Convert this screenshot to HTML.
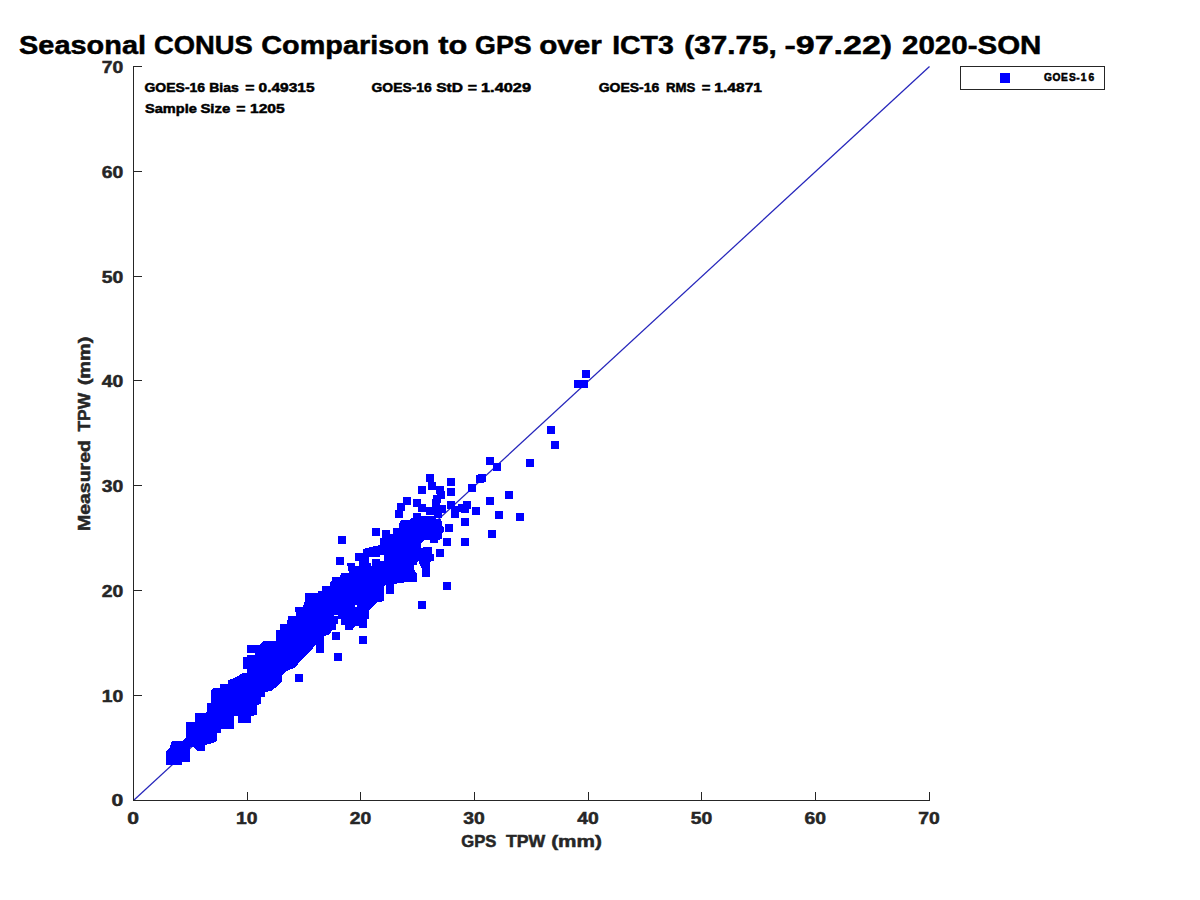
<!DOCTYPE html>
<html><head><meta charset="utf-8"><style>
html,body{margin:0;padding:0;background:#fff;width:1200px;height:900px;overflow:hidden}
svg{display:block}
text{font-family:"Liberation Sans",sans-serif;font-weight:bold;stroke:currentColor;stroke-width:0.5px}
</style></head><body>
<svg width="1200" height="900" viewBox="0 0 1200 900">
<rect width="1200" height="900" fill="#fff"/>
<!-- title -->
<g font-size="26.5" fill="#000" color="#000">
<text x="19.1" y="54.2" textLength="126.94" lengthAdjust="spacingAndGlyphs">Seasonal</text>
<text x="154.01" y="54.2" textLength="98.78" lengthAdjust="spacingAndGlyphs">CONUS</text>
<text x="261.3" y="54.2" textLength="168.08" lengthAdjust="spacingAndGlyphs">Comparison</text>
<text x="438.2" y="54.2" textLength="28.97" lengthAdjust="spacingAndGlyphs">to</text>
<text x="475.14" y="54.2" textLength="56.49" lengthAdjust="spacingAndGlyphs">GPS</text>
<text x="539.17" y="54.2" textLength="62.76" lengthAdjust="spacingAndGlyphs">over</text>
<text x="612.15" y="54.2" textLength="61.58" lengthAdjust="spacingAndGlyphs">ICT3</text>
<text x="684.35" y="54.2" textLength="92.5" lengthAdjust="spacingAndGlyphs">(37.75,</text>
<text x="784.42" y="54.2" textLength="107.73" lengthAdjust="spacingAndGlyphs">-97.22)</text>
<text x="902.0" y="54.2" textLength="139.39" lengthAdjust="spacingAndGlyphs">2020-SON</text>
</g>
<!-- diagonal -->
<line x1="133.5" y1="800.5" x2="929.5" y2="66.5" stroke="#2626bb" stroke-width="1.25"/>
<!-- blob -->
<g id="blob" fill="#0000ff" shape-rendering="crispEdges">
<polygon points="166,765 166,751 170,747 172,741 182,741 186,737 186,722 195,722 195,713 205,713 207,711 207,703 211,703 211,691 213,688 220,688 220,684 228,684 228,680 232,679 238,676 243,673 247,673 247,669 243,669 243,657 247,657 247,645 259,645 263,641 276,641 276,630 280,630 280,624 287,624 288,616 296,616 295,607 303,607 305,601 305,593 318,593 318,591 322,591 322,586 330,586 330,582 332,580 332,577 340,577 341,573 349,573 347,563 355,563 355,553 363,553 363,549 371,547 380,545 380,538 382,538 382,530 390,530 390,534 393,534 393,528 399,528 399,524 401,520 410,520 411,518 413,518 413,513 421,513 421,515.5 434,515.5 436,519 441,519 442,522 442,526 444,527 444,532 442,533 442,539 438,540 438,543 430,543 430,540 424,540 421,543 421,548 424,547 432,547 432,554 434,554 434,560.5 430,562 430,577 422,577 422,569 419,563 418,559 417,565 414,565 414,569 417,574 417,582 407,582 394,584 394,593.5 386,593.5 386,585 384,586 384,601 376.7,602.7 374,605.3 368.7,611.3 368.7,618.7 366.7,620 366.7,627.7 359.3,627.7 359.3,626 355.3,626 353.3,627.7 353.3,629.7 345.3,629.7 345.3,625.3 341.3,625.3 341.3,619 338,619 338,624 336,624 336,630.3 332,630.3 330,634 324,636 324,652.5 316,652.5 316,644 313,648 308,653 304,657 300,661 296,667 287,671 282,675 282,681 279,685 271,691 265,692 265,697 261,697 261,704 257,705 257,715 251,716 251,723 238,723 238,716 234,716 234,729 221,729 221,733 217,733 217,741 213,743 205,745 205,751 197,751 193,747 190,747 190,762 182,762 182,765"/>
<rect x="295" y="674" width="8" height="8"/>
<rect x="334" y="653" width="8" height="8"/>
<rect x="332" y="632" width="8" height="8"/>
<rect x="359" y="636" width="8" height="8"/>
<rect x="418" y="601" width="8" height="8"/>
<rect x="443" y="582" width="8" height="8"/>
<rect x="436" y="549" width="8" height="8"/>
<rect x="443" y="538" width="8" height="8"/>
<rect x="461" y="538" width="8" height="8"/>
<rect x="445" y="524" width="8" height="8"/>
<rect x="461" y="518" width="8" height="8"/>
<rect x="338" y="536" width="8" height="8"/>
<rect x="336" y="557" width="8" height="8"/>
<rect x="372" y="528" width="8" height="8"/>
<rect x="426" y="474" width="8" height="8"/>
<rect x="428" y="482" width="8" height="8"/>
<rect x="436" y="486" width="8" height="8"/>
<rect x="437" y="491" width="8" height="8"/>
<rect x="433" y="495" width="8" height="8"/>
<rect x="432" y="499" width="8" height="8"/>
<rect x="426" y="507" width="8" height="8"/>
<rect x="418" y="504" width="8" height="8"/>
<rect x="413" y="499" width="8" height="8"/>
<rect x="438" y="505" width="8" height="8"/>
<rect x="434" y="510" width="8" height="8"/>
<rect x="403" y="497" width="8" height="8"/>
<rect x="397" y="503" width="8" height="8"/>
<rect x="395" y="510" width="8" height="8"/>
<rect x="418" y="486" width="8" height="8"/>
<rect x="447" y="478" width="8" height="8"/>
<rect x="447" y="488" width="8" height="8"/>
<rect x="468" y="484" width="8" height="8"/>
<rect x="476" y="475" width="8" height="8"/>
<rect x="478" y="474" width="8" height="8"/>
<rect x="447" y="501" width="8" height="8"/>
<rect x="451" y="506" width="8" height="8"/>
<rect x="451" y="510" width="8" height="8"/>
<rect x="458" y="504" width="8" height="8"/>
<rect x="463" y="501" width="8" height="8"/>
<rect x="461" y="505" width="8" height="8"/>
<rect x="434" y="505" width="8" height="8"/>
<rect x="472" y="507" width="8" height="8"/>
<rect x="468" y="484" width="8" height="8"/>
<rect x="486" y="497" width="8" height="8"/>
<rect x="505" y="491" width="8" height="8"/>
<rect x="495" y="511" width="8" height="8"/>
<rect x="516" y="513" width="8" height="8"/>
<rect x="488" y="530" width="8" height="8"/>
<rect x="461" y="538" width="8" height="8"/>
<rect x="486" y="457" width="8" height="8"/>
<rect x="493" y="463" width="8" height="8"/>
<rect x="526" y="459" width="8" height="8"/>
<rect x="547" y="426" width="8" height="8"/>
<rect x="551" y="441" width="8" height="8"/>
<rect x="574" y="380" width="8" height="8"/>
<rect x="580" y="380" width="8" height="8"/>
<rect x="582" y="370" width="8" height="8"/>
<rect x="247" y="652.7" width="8" height="2" fill="#fff"/>
<rect x="355.3" y="605" width="1.7" height="2" fill="#fff"/>
<rect x="334.3" y="615" width="3.7" height="1.2" fill="#fff"/>
<rect x="369" y="557" width="15" height="2.3" fill="#fff"/>
<rect x="380" y="555" width="4" height="6" fill="#fff"/>
<rect x="369" y="557" width="3" height="6" fill="#fff"/>
<rect x="371" y="563" width="1" height="3" fill="#fff"/>
<rect x="355" y="561" width="4" height="5" fill="#fff"/>
</g>
<!-- axes -->
<g stroke="#262626" stroke-width="1" shape-rendering="crispEdges" fill="none">
<path d="M133.5 66 V801 M133 800.5 H930"/>
<path d="M247.5 792 V800 M360.5 792 V800 M474.5 792 V800 M588.5 792 V800 M701.5 792 V800 M815.5 792 V800 M929.5 792 V800"/>
<path d="M134 695.5 H142 M134 590.5 H142 M134 485.5 H142 M134 380.5 H142 M134 276.5 H142 M134 171.5 H142 M134 66.5 H142"/>
</g>
<!-- tick labels -->
<g fill="#262626" color="#262626" font-size="17">
<text x="133.0" y="823.9" text-anchor="middle" textLength="11.75" lengthAdjust="spacingAndGlyphs">0</text>
<text x="246.7" y="823.9" text-anchor="middle" textLength="21.5" lengthAdjust="spacingAndGlyphs">10</text>
<text x="360.4" y="823.9" text-anchor="middle" textLength="21.5" lengthAdjust="spacingAndGlyphs">20</text>
<text x="474.1" y="823.9" text-anchor="middle" textLength="21.5" lengthAdjust="spacingAndGlyphs">30</text>
<text x="587.9" y="823.9" text-anchor="middle" textLength="21.5" lengthAdjust="spacingAndGlyphs">40</text>
<text x="701.6" y="823.9" text-anchor="middle" textLength="21.5" lengthAdjust="spacingAndGlyphs">50</text>
<text x="815.3" y="823.9" text-anchor="middle" textLength="21.5" lengthAdjust="spacingAndGlyphs">60</text>
<text x="929.0" y="823.9" text-anchor="middle" textLength="21.5" lengthAdjust="spacingAndGlyphs">70</text>
<text x="123.2" y="806.2" text-anchor="end" textLength="11.75" lengthAdjust="spacingAndGlyphs">0</text>
<text x="123.2" y="701.5" text-anchor="end" textLength="21.5" lengthAdjust="spacingAndGlyphs">10</text>
<text x="123.2" y="596.7" text-anchor="end" textLength="21.5" lengthAdjust="spacingAndGlyphs">20</text>
<text x="123.2" y="492.0" text-anchor="end" textLength="21.5" lengthAdjust="spacingAndGlyphs">30</text>
<text x="123.2" y="387.2" text-anchor="end" textLength="21.5" lengthAdjust="spacingAndGlyphs">40</text>
<text x="123.2" y="282.5" text-anchor="end" textLength="21.5" lengthAdjust="spacingAndGlyphs">50</text>
<text x="123.2" y="177.8" text-anchor="end" textLength="21.5" lengthAdjust="spacingAndGlyphs">60</text>
<text x="123.2" y="73.0" text-anchor="end" textLength="21.5" lengthAdjust="spacingAndGlyphs">70</text>
</g>
<!-- stats -->
<g fill="#000" color="#000" font-size="13.3">
<text x="144.50" y="92" textLength="60.61" lengthAdjust="spacingAndGlyphs">GOES-16</text>
<text x="209.21" y="92" textLength="29.58" lengthAdjust="spacingAndGlyphs">Bias</text>
<text x="245.38" y="92" textLength="9.23" lengthAdjust="spacingAndGlyphs">=</text>
<text x="258.64" y="92" textLength="55.92" lengthAdjust="spacingAndGlyphs">0.49315</text>
<text x="371.50" y="92" textLength="60.3" lengthAdjust="spacingAndGlyphs">GOES-16</text>
<text x="436.23" y="92" textLength="26.73" lengthAdjust="spacingAndGlyphs">StD</text>
<text x="467.88" y="92" textLength="9.23" lengthAdjust="spacingAndGlyphs">=</text>
<text x="481.00" y="92" textLength="50.0" lengthAdjust="spacingAndGlyphs">1.4029</text>
<text x="598.70" y="92" textLength="60.61" lengthAdjust="spacingAndGlyphs">GOES-16</text>
<text x="665.92" y="92" textLength="29.38" lengthAdjust="spacingAndGlyphs">RMS</text>
<text x="701.72" y="92" textLength="8.65" lengthAdjust="spacingAndGlyphs">=</text>
<text x="714.32" y="92" textLength="47.65" lengthAdjust="spacingAndGlyphs">1.4871</text>
<text x="144.98" y="112.5" textLength="51.82" lengthAdjust="spacingAndGlyphs">Sample</text>
<text x="200.40" y="112.5" textLength="29.9" lengthAdjust="spacingAndGlyphs">Size</text>
<text x="236.18" y="112.5" textLength="9.23" lengthAdjust="spacingAndGlyphs">=</text>
<text x="249.96" y="112.5" textLength="34.74" lengthAdjust="spacingAndGlyphs">1205</text>
</g>
<!-- axis labels -->
<g fill="#262626" color="#262626" font-size="16.5">
<text x="461.30" y="846.6" textLength="35.1" lengthAdjust="spacingAndGlyphs">GPS</text>
<text x="506.00" y="846.6" textLength="39.3" lengthAdjust="spacingAndGlyphs">TPW</text>
<text x="551.19" y="846.6" textLength="50.71" lengthAdjust="spacingAndGlyphs">(mm)</text>
</g>
<g fill="#262626" color="#262626" font-size="16.5" transform="translate(89.9 0) rotate(-90)">
<text x="-531.11" y="0" textLength="91.02" lengthAdjust="spacingAndGlyphs">Measured</text>
<text x="-431.50" y="0" textLength="38.5" lengthAdjust="spacingAndGlyphs">TPW</text>
<text x="-385.29" y="0" textLength="48.78" lengthAdjust="spacingAndGlyphs">(mm)</text>
</g>
<!-- legend -->
<rect x="960.5" y="66.5" width="144" height="23" fill="#fff" stroke="#262626" stroke-width="1"/>
<rect x="1000" y="73" width="10" height="10" fill="#0000ff"/>
<g font-size="10.2" fill="#000" color="#000" text-anchor="middle"><text x="1048" y="81">G</text><text x="1056.5" y="81">O</text><text x="1064.5" y="81">E</text><text x="1072.3" y="81">S</text><text x="1078" y="81">-</text><text x="1083.5" y="81">1</text><text x="1091.4" y="81">6</text></g>
</svg>
</body></html>
